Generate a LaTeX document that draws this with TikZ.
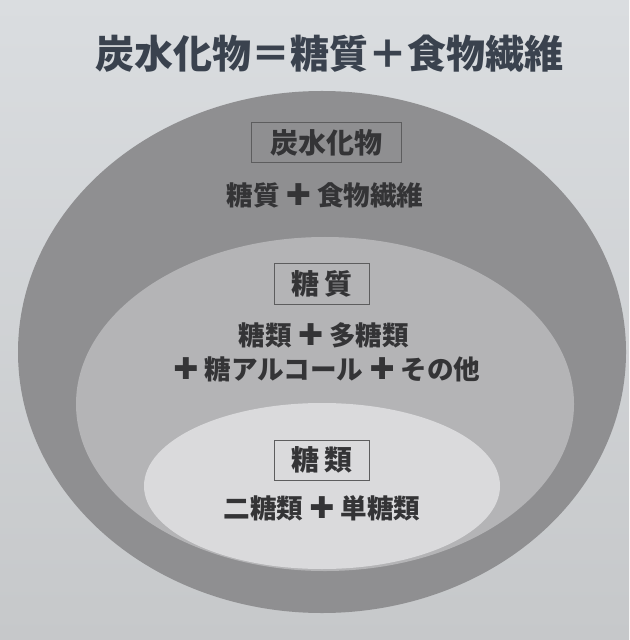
\documentclass[tikz,border=0pt]{standalone}
\usepackage{fontspec}
\usepackage{xcolor}
\usepackage{tikz}
\usetikzlibrary{positioning}
\newfontfamily\jp{Noto Sans CJK JP}
\newfontfamily\sym{DejaVu Sans}
\definecolor{paper}{RGB}{218,221,224}
\definecolor{paperlow}{RGB}{198,200,202}
\definecolor{ringout}{RGB}{143,143,145}
\definecolor{ringmid}{RGB}{180,180,182}
\definecolor{ringin}{RGB}{218,218,220}
\definecolor{titleink}{RGB}{58,66,78}
\definecolor{ink}{RGB}{52,52,54}
\newcommand{\pls}{{\sym\bfseries\fontsize{15}{15}\selectfont ✚}}
\tikzset{
    ringbox/.style={draw=ink!80, line width=0.5pt, inner sep=0pt, minimum height=20pt, font=\jp\bfseries\fontsize{14}{16}\selectfont, text=ink},
    ringtext/.style={font=\jp\bfseries\fontsize{13.3}{15}\selectfont, text=ink, inner sep=0pt}
}

\begin{document}
\begin{tikzpicture}[x=0.5pt, y=-0.5pt]
        \useasboundingbox (0,0) rectangle (629,640);
        \shade[top color=paper, bottom color=paperlow] (0,0) rectangle (629,640);

        % nested sets, largest first
        \fill[ringout] (322,352) ellipse [x radius=304, y radius=261];
        \fill[ringmid] (325,404) ellipse [x radius=249, y radius=167];
        \fill[ringin] (322,486) ellipse [x radius=178, y radius=83];

        \node[font=\jp\bfseries\fontsize{19.5}{22}\selectfont, text=titleink] (title) at (329,54) {炭水化物＝糖質＋食物繊維};

        % outer ring
        \node[ringbox, minimum width=75pt] (carbBox) at (326,143) {炭水化物};
        \node[ringtext] (carbSum) at (325,195) {糖質 \pls\ 食物繊維};

        % middle ring
        \node[ringbox, minimum width=47.5pt] (sugarBox) at (322,284) {糖\,質};
        \node[ringtext] (sugarSumA) at (324,335) {糖類 \pls\ 多糖類};
        \node[ringtext] (sugarSumB) at (327,369) {\pls\ 糖アルコール \pls\ その他};

        % inner ring
        \node[ringbox, minimum width=47.5pt] (saccBox) at (322,460) {糖\,類};
        \node[ringtext] (saccSum) at (322,508) {二糖類 \pls\ 単糖類};
    \end{tikzpicture}
\end{document}
